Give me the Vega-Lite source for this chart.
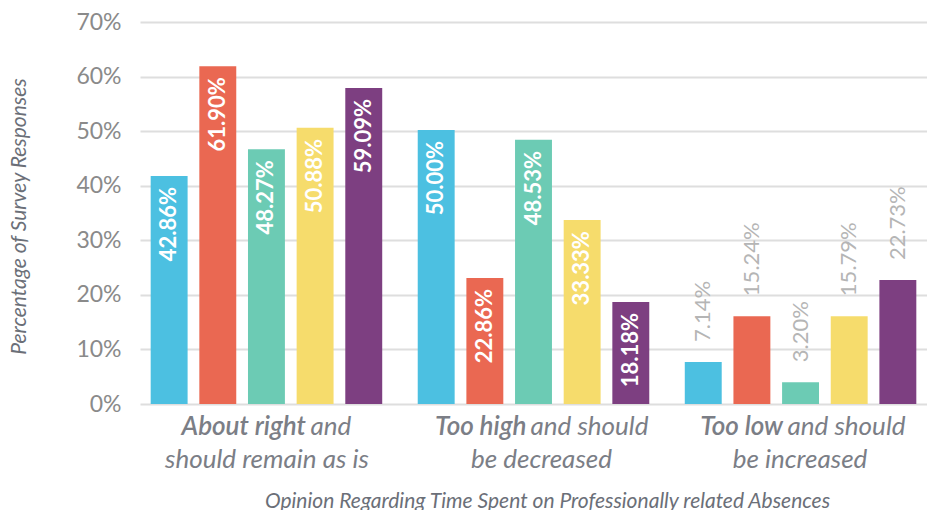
{
  "$schema": "https://vega.github.io/schema/vega-lite/v6.json",
  "width": 787,
  "height": 382,
  "autosize": {"type": "none"},
  "padding": {"left": 140, "top": 22, "right": 0, "bottom": 106},
  "background": "white",
  "config": {"view": {"stroke": null}, "font": "Lato"},
  "data": {
    "values": [
      {"category": "About right", "series": "S1", "value": 0.418, "label": "42.86%"},
      {"category": "About right", "series": "S2", "value": 0.619, "label": "61.90%"},
      {"category": "About right", "series": "S3", "value": 0.467, "label": "48.27%"},
      {"category": "About right", "series": "S4", "value": 0.506, "label": "50.88%"},
      {"category": "About right", "series": "S5", "value": 0.579, "label": "59.09%"},
      {"category": "Too high", "series": "S1", "value": 0.502, "label": "50.00%"},
      {"category": "Too high", "series": "S2", "value": 0.231, "label": "22.86%"},
      {"category": "Too high", "series": "S3", "value": 0.484, "label": "48.53%"},
      {"category": "Too high", "series": "S4", "value": 0.337, "label": "33.33%"},
      {"category": "Too high", "series": "S5", "value": 0.187, "label": "18.18%"},
      {"category": "Too low", "series": "S1", "value": 0.077, "label": "7.14%"},
      {"category": "Too low", "series": "S2", "value": 0.161, "label": "15.24%"},
      {"category": "Too low", "series": "S3", "value": 0.040, "label": "3.20%"},
      {"category": "Too low", "series": "S4", "value": 0.161, "label": "15.79%"},
      {"category": "Too low", "series": "S5", "value": 0.227, "label": "22.73%"}
    ]
  },
  "resolve": {"axis": {"x": "independent"}},
  "layer": [
    {
      "mark": {"type": "bar"},
      "encoding": {
        "x": {
          "field": "category", "type": "nominal", "sort": null,
          "scale": {"paddingInner": 0.133, "paddingOuter": 0.04},
          "axis": {
            "orient": "bottom", "title": null, "domain": false, "ticks": false, "tickSize": 0, "grid": false,
            "labelAngle": 0, "labelFont": "Lato", "labelFontSize": 26, "labelFontStyle": "italic", "labelFontWeight": 600,
            "labelColor": "#7b7e86", "labelBaseline": "alphabetic", "labelAlign": "right", "labelPadding": 30, "labelLimit": 0,
            "labelOffset": {"condition": [{"test": "datum.value == 'About right'", "value": 39.5}, {"test": "datum.value == 'Too high'", "value": -7}], "value": -17.5},
            "labelExpr": "datum.value"
          }
        },
        "xOffset": {"field": "series", "type": "nominal", "sort": null, "scale": {"paddingInner": 0.241, "paddingOuter": 0}},
        "y": {
          "field": "value", "type": "quantitative",
          "scale": {"domain": [0, 0.7], "nice": false},
          "axis": {
            "values": [0, 0.1, 0.2, 0.3, 0.4, 0.5, 0.6, 0.7], "format": ".0%",
            "domain": false, "ticks": false, "tickSize": 0, "grid": true, "gridColor": "#dedede", "gridWidth": 2,
            "labelFont": "Lato", "labelFontSize": 23, "labelColor": "#8a8a8a", "labelPadding": 19,
            "title": "Percentage of Survey Responses", "titleFont": "Lato", "titleFontSize": 21, "titleFontStyle": "italic",
            "titleFontWeight": "normal", "titleColor": "#6b6f78", "titleX": -121, "titleY": 194, "titleBaseline": "middle", "titleAngle": -90
          }
        },
        "color": {
          "field": "series", "type": "nominal", "legend": null,
          "scale": {"domain": ["S1", "S2", "S3", "S4", "S5"], "range": ["#4cc0e1", "#ea6852", "#6ccbb4", "#f6dc6c", "#7d3f81"]}
        }
      }
    },
    {
      "transform": [{"filter": "datum.category != 'Too low'"}],
      "mark": {"type": "text", "angle": 270, "align": "right", "baseline": "middle", "dx": -11, "font": "Lato", "fontSize": 22, "fontWeight": "bold", "color": "white"},
      "encoding": {
        "x": {
          "field": "category", "type": "nominal", "sort": null,
          "axis": {
            "orient": "bottom", "title": null, "domain": false, "ticks": false, "tickSize": 0, "grid": false,
            "labelAngle": 0, "labelFont": "Lato", "labelFontSize": 26, "labelFontStyle": "italic", "labelFontWeight": "normal",
            "labelColor": "#7b7e86", "labelBaseline": "alphabetic", "labelAlign": "left", "labelPadding": 30, "labelLimit": 0,
            "labelOffset": {"condition": [{"test": "datum.value == 'About right'", "value": 44}, {"test": "datum.value == 'Too high'", "value": -3}], "value": -13}, 
            "labelExpr": "datum.value == 'About right' ? 'and' : 'and should'"
          }
        },
        "xOffset": {"field": "series", "type": "nominal", "sort": null},
        "y": {"field": "value", "type": "quantitative"},
        "text": {"field": "label", "type": "nominal"}
      }
    },
    {
      "transform": [{"filter": "datum.category == 'Too low'"}],
      "mark": {"type": "text", "angle": 270, "align": "left", "baseline": "middle", "dx": 20, "font": "Lato", "fontSize": 22, "fontWeight": "normal", "color": "#b5b5b5"},
      "encoding": {
        "x": {
          "field": "category", "type": "nominal", "sort": null,
          "axis": {
            "orient": "bottom", "domain": false, "ticks": false, "tickSize": 0, "grid": false,
            "labelAngle": 0, "labelFont": "Lato", "labelFontSize": 26, "labelFontStyle": "italic", "labelFontWeight": "normal",
            "labelColor": "#7b7e86", "labelBaseline": "alphabetic", "labelAlign": "center", "labelPadding": 63, "labelLimit": 0,
            "labelOffset": {"condition": [{"test": "datum.value == 'About right'", "value": 0.5}, {"test": "datum.value == 'Too high'", "value": 8}], "value": -0.5},
            "labelExpr": "datum.value == 'About right' ? 'should remain as is' : datum.value == 'Too high' ? 'be decreased' : 'be increased'",
            "title": "Opinion Regarding Time Spent on Professionally related Absences",
            "titleFont": "Lato", "titleFontSize": 21, "titleFontStyle": "italic", "titleFontWeight": "normal", "titleColor": "#6b6f78",
            "titleX": 407, "titleY": 103, "titleBaseline": "alphabetic", "titleAlign": "center", "titleAnchor": "middle"
          }
        },
        "xOffset": {"field": "series", "type": "nominal", "sort": null},
        "y": {"field": "value", "type": "quantitative"},
        "text": {"field": "label", "type": "nominal"}
      }
    }
  ]
}
